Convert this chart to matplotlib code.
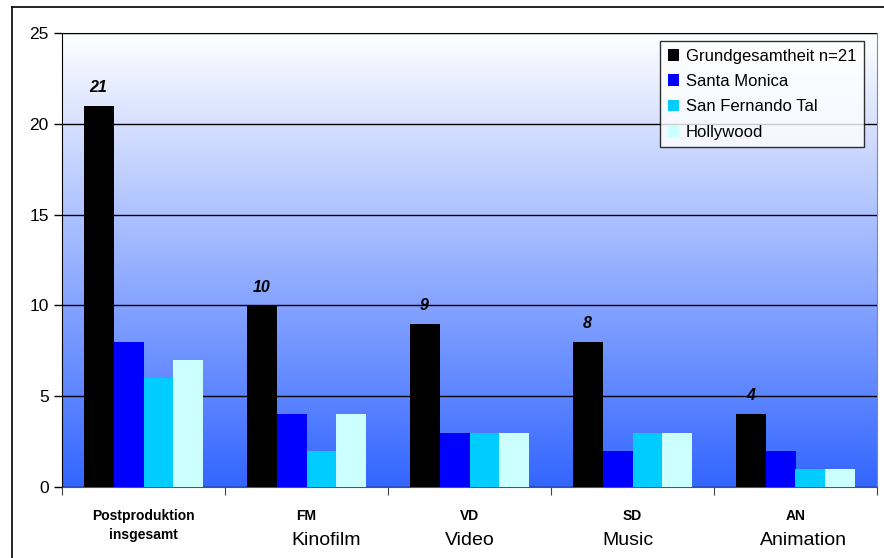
import matplotlib.pyplot as plt
import numpy as np
from matplotlib.lines import Line2D
from matplotlib.patches import Patch
from matplotlib import font_manager

groups = ['Postproduktion\ninsgesamt', 'FM', 'VD', 'SD', 'AN']
subtitles = ['', 'Kinofilm', 'Video', 'Music', 'Animation']
series = ['Grundgesamtheit n=21', 'Santa Monica', 'San Fernando Tal', 'Hollywood']
total = [21, 10, 9, 8, 4]
santa_monica = [8, 4, 3, 2, 2]
san_fernando = [6, 2, 3, 3, 1]
hollywood = [7, 4, 3, 3, 1]
colors = ['#000000', '#0000ff', '#00ccff', '#ccffff']

names = {f.name for f in font_manager.fontManager.ttflist}
narrow = 'Liberation Sans Narrow' if 'Liberation Sans Narrow' in names else 'Liberation Sans'
plt.rcParams['font.family'] = ['Liberation Sans', 'DejaVu Sans']

fig = plt.figure(figsize=(8.84, 5.58), dpi=100)
ax = fig.add_axes([62/884, 1-487/558, 815/884, 454/558])

# outer frame (left and top edges)
fig.add_artist(Line2D([12/884, 12/884], [0, 1-7/558], color='black', lw=1.2))
fig.add_artist(Line2D([12/884, 1], [1-7/558, 1-7/558], color='black', lw=1.2))

# vertical gradient, white at top to blue at bottom
grad = np.linspace(0, 1, 256).reshape(-1, 1)
top_c = np.array([1.0, 1.0, 1.0])
bot_c = np.array([0.2, 0.4, 1.0])
img = top_c * (1 - grad[..., None]) + bot_c * grad[..., None]
img = img.reshape(256, 1, 3)
ax.imshow(img, extent=[-0.5, 4.5, 0, 25], aspect='auto', zorder=0)

x = np.arange(len(groups))
w = 0.184
data = [total, santa_monica, san_fernando, hollywood]
for i, (vals, c) in enumerate(zip(data, colors)):
    ax.bar(x + (i - 1.5) * w, vals, w, color=c, zorder=3)

for xi, v in zip(x, total):
    ax.text(xi - 1.5 * w, v + 0.6, str(v), ha='center', va='bottom',
            fontsize=11.5, fontweight='bold', fontstyle='italic', family=narrow)

ax.set_xlim(-0.5, 4.5)
ax.set_ylim(0, 25)
ax.set_yticks([0, 5, 10, 15, 20, 25])
ax.tick_params(axis='y', direction='out', length=6, labelsize=12.5, width=1)
ax.yaxis.grid(True, color='black', lw=1, zorder=1)
ax.set_axisbelow(False)
ax.set_xticks(np.arange(-0.5, 5, 1))
ax.set_xticklabels([])
ax.tick_params(axis='x', direction='out', length=6, color='#444444')
for s in ['top', 'right']:
    ax.spines[s].set_color('#888888')
ax.spines['bottom'].set_color('#555555')
ax.spines['left'].set_color('black')

# category labels: bold code, then the plain name underneath
sub_shift = [0, 0.12, 0.0, -0.03, 0.05]
for xi, g, s, dx in zip(x, groups, subtitles, sub_shift):
    ax.text(xi, -1.2, g, ha='center', va='top', fontsize=10, fontweight='bold',
            family=narrow, linespacing=1.45)
    if s:
        ax.text(xi + dx, -2.5, s, ha='center', va='top', fontsize=14,
                family=narrow)

handles = [Patch(facecolor=c, edgecolor='none') for c in colors]
leg = ax.legend(handles, series, loc='upper right', bbox_to_anchor=(0.984, 0.982),
                borderaxespad=0, fontsize=12, frameon=True, fancybox=False,
                edgecolor='black', handlelength=0.7, handleheight=0.7,
                handletextpad=0.4, labelspacing=0.62, borderpad=0.45)
leg.get_frame().set_linewidth(1)

plt.savefig('out.png', dpi=100)
